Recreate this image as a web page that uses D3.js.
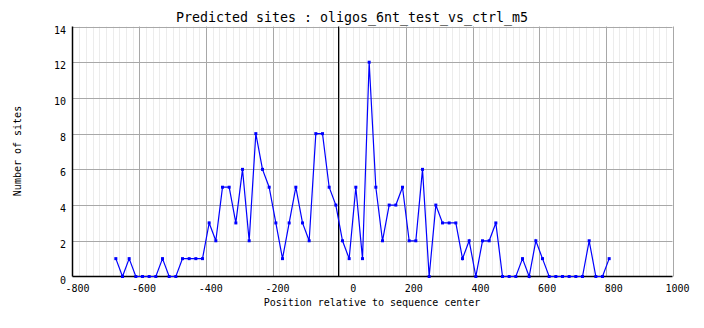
<!DOCTYPE html>
<html><head><meta charset="utf-8">
<script src="https://cdn.jsdelivr.net/npm/d3@7"></script>
<style>body{margin:0;background:#fff}svg{display:block}text{font-family:"DejaVu Sans Mono",monospace;fill:#000}</style>
</head><body>
<script>
const positions = [-670,-650,-630,-610,-590,-570,-550,-530,-510,-490,-470,-450,-430,-410,-390,-370,-350,-330,-310,-290,-270,-250,-230,-210,-190,-170,-150,-130,-110,-90,-70,-50,-30,-10,10,30,50,70,90,110,130,150,170,190,210,230,250,270,290,310,330,350,370,390,410,430,450,470,490,510,530,550,570,590,610,630,650,670,690,710,730,750,770,790,810];
const sites = [1,0,1,0,0,0,0,1,0,0,1,1,1,1,3,2,5,5,3,6,2,8,6,5,3,1,3,5,3,2,8,8,5,4,2,1,5,1,12,5,2,4,4,5,2,2,6,0,4,3,3,3,1,2,0,2,2,3,0,0,0,1,0,2,1,0,0,0,0,0,0,2,0,0,1];
const xTicks = [-800,-600,-400,-200,0,200,400,600,800,1000];
const yTicks = [0,2,4,6,8,10,12,14];
const title = "Predicted sites : oligos_6nt_test_vs_ctrl_m5";
const xTitle = "Position relative to sequence center";
const yTitle = "Number of sites";

const W = 704, H = 328;
const L = 72.5, R = 672.5, T = 26.5, B = 276.5;
const svg = d3.select("body").append("svg").attr("width", W).attr("height", H);
const x = d3.scaleLinear().domain([-800, 1000]).range([L, R]);
const y = d3.scaleLinear().domain([0, 14]).range([B, T]);

// minor vertical grid
const minor = d3.range(-800, 1001, 20).filter(v => v % 200 !== 0);
svg.append("g").selectAll("line").data(minor).join("line")
  .attr("x1", d => Math.round(x(d)) + 0.5).attr("x2", d => Math.round(x(d)) + 0.5)
  .attr("y1", T).attr("y2", B).attr("stroke", "#ececec").attr("stroke-width", 1);
// major grid
svg.append("g").selectAll("line").data(xTicks.filter(v => v !== -800)).join("line")
  .attr("x1", d => Math.round(x(d)) + 0.5).attr("x2", d => Math.round(x(d)) + 0.5)
  .attr("y1", T).attr("y2", B).attr("stroke", "#a8a8a8").attr("stroke-width", 1);
svg.append("g").selectAll("line").data(yTicks.filter(v => v !== 0)).join("line")
  .attr("x1", L).attr("x2", R)
  .attr("y1", d => Math.round(y(d)) + 0.5).attr("y2", d => Math.round(y(d)) + 0.5)
  .attr("stroke", "#a8a8a8").attr("stroke-width", 1);
// center line
svg.append("line").attr("x1", Math.round(x(0)) - 0.5).attr("x2", Math.round(x(0)) - 0.5)
  .attr("y1", T).attr("y2", B).attr("stroke", "#000").attr("stroke-width", 1);
// axes
svg.append("line").attr("x1", L).attr("x2", L).attr("y1", T).attr("y2", B).attr("stroke", "#000").attr("stroke-width", 1.5);
svg.append("line").attr("x1", L).attr("x2", R).attr("y1", B).attr("y2", B).attr("stroke", "#000").attr("stroke-width", 1.5);

// tick labels
svg.append("g").selectAll("text").data(xTicks).join("text")
  .attr("x", d => x(d) + 17).attr("y", 291.5).attr("text-anchor", "end")
  .attr("font-size", "10px").text(d => d);
svg.append("g").selectAll("text").data(yTicks).join("text")
  .attr("x", 66).attr("y", d => y(d) + 7).attr("text-anchor", "end")
  .attr("font-size", "10px").text(d => d);

// titles
svg.append("text").attr("x", 352).attr("y", 22).attr("text-anchor", "middle")
  .attr("font-size", "13.3px").text(title);
svg.append("text").attr("x", 372).attr("y", 306).attr("text-anchor", "middle")
  .attr("font-size", "10px").text(xTitle);
svg.append("text").attr("transform", "translate(20.5,151) rotate(-90)").attr("text-anchor", "middle")
  .attr("font-size", "10px").text(yTitle);

// data
const pts = positions.map((p, i) => [p, sites[i]]);
svg.append("path").datum(pts)
  .attr("d", d3.line().x(d => x(d[0])).y(d => y(d[1])))
  .attr("fill", "none").attr("stroke", "#0000ff").attr("stroke-width", 1.2);
svg.append("g").selectAll("rect").data(pts).join("rect")
  .attr("x", d => x(d[0]) - 1.5).attr("y", d => y(d[1]) - 1.5)
  .attr("width", 3).attr("height", 3).attr("fill", "#0000ff");
</script>
</body></html>
